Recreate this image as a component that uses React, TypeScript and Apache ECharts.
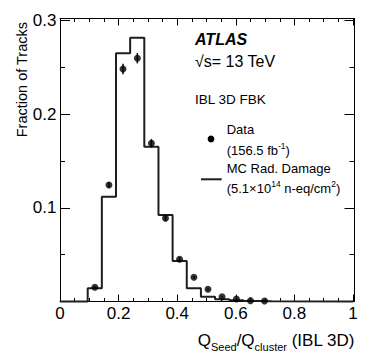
import React, { useEffect, useRef } from "react";
import * as echarts from "echarts";

// ---- data ----
const binEdges = [0.0945, 0.1428, 0.1911, 0.2394, 0.2877, 0.336, 0.3843, 0.4326, 0.4809, 0.5292, 0.5775, 0.6258, 0.6741, 0.7224];
const mcValues = [0.0141, 0.1118, 0.2649, 0.2815, 0.1652, 0.0923, 0.0432, 0.0141, 0.0051, 0.0025, 0.0014, 0.0005, 0.0003];
const dataX = [0.119, 0.167, 0.215, 0.264, 0.312, 0.36, 0.408, 0.457, 0.505, 0.553, 0.602, 0.65, 0.698];
const dataY = [0.0152, 0.1243, 0.2481, 0.2596, 0.1688, 0.0888, 0.045, 0.0258, 0.013, 0.0051, 0.0027, 0.0009, 0.0005];
const dataErr = [0.001, 0.003, 0.0055, 0.0055, 0.0045, 0.003, 0.002, 0.0015, 0.001, 0.0005, 0.0005, 0.0003, 0.0003];
const xTickLabels = ["0", "0.2", "0.4", "0.6", "0.8", "1"];
const yTickLabels = ["0.1", "0.2", "0.3"];

const FONT = '"Liberation Sans", Arial, Helvetica, sans-serif';

let measureCtx: CanvasRenderingContext2D | null = null;
function measure(text: string, size: number, weight = "normal", style = "normal") {
  if (!measureCtx) measureCtx = document.createElement("canvas").getContext("2d");
  measureCtx!.font = `${style} ${weight} ${size}px ${FONT}`;
  return measureCtx!.measureText(text).width;
}

type Seg = { text: string; size: number; dy: number };
function layout(segs: Seg[], x: number, y: number, anchor: "left" | "right") {
  const widths = segs.map((s) => measure(s.text, s.size));
  const total = widths.reduce((a, b) => a + b, 0);
  let cx = anchor === "left" ? x : x - total;
  const els: any[] = [];
  segs.forEach((s, i) => {
    els.push(txt(s.text, cx, y + s.dy, s.size));
    cx += widths[i];
  });
  return els;
}

function txt(text: string, x: number, y: number, size: number, weight = "normal", style = "normal", align = "left") {
  return {
    type: "text",
    x,
    y,
    silent: true,
    style: {
      text,
      font: `${style} ${weight} ${size}px ${FONT}`,
      fill: "#000",
      align,
      verticalAlign: "middle",
      textAlign: align,
      textVerticalAlign: "middle",
    },
  };
}

export default function App() {
  const ref = useRef<HTMLDivElement>(null);
  useEffect(() => {
    if (!ref.current) return;
    const chart = echarts.init(ref.current, undefined, { renderer: "svg" });

    // step histogram outline from bin edges
    const step: number[][] = [[0, 0], [binEdges[0], 0]];
    mcValues.forEach((v, i) => {
      step.push([binEdges[i], v]);
      step.push([binEdges[i + 1], v]);
    });
    step.push([binEdges[binEdges.length - 1], 0]);
    step.push([1, 0]);

    const pts = dataX.map((x, i) => [x, dataY[i], dataErr[i]]);

    const xLabelFmt = (v: number) => {
      const k = v / 0.2;
      if (Math.abs(k - Math.round(k)) > 1e-6) return "";
      return xTickLabels[Math.round(k)] ?? "";
    };
    const yLabelFmt = (v: number) => {
      const k = v / 0.1;
      if (Math.abs(k - Math.round(k)) > 1e-6) return "";
      const idx = Math.round(k) - 1;
      return idx >= 0 ? yTickLabels[idx] ?? "" : "";
    };

    const axisLine = { show: true, onZero: false, lineStyle: { color: "#000", width: 1 } };
    const xBase = {
      type: "value",
      min: 0,
      max: 1.005,
      interval: 0.2,
      axisLine,
      axisTick: { show: true, inside: true, length: 7, lineStyle: { color: "#000", width: 1 } },
      minorTick: { show: true, splitNumber: 4, length: 3.5, lineStyle: { color: "#000", width: 1 } },
      splitLine: { show: false },
      minorSplitLine: { show: false },
    };
    const yBase = {
      type: "value",
      min: 0,
      max: 0.302,
      interval: 0.1,
      axisLine,
      axisTick: { show: true, inside: true, length: 10, lineStyle: { color: "#000", width: 1 } },
      minorTick: { show: true, splitNumber: 2, length: 5, lineStyle: { color: "#000", width: 1 } },
      splitLine: { show: false },
      minorSplitLine: { show: false },
    };

    const xTitle = layout(
      [
        { text: "Q", size: 17, dy: 0 },
        { text: "Seed", size: 11, dy: 6 },
        { text: "/Q", size: 17, dy: 0 },
        { text: "cluster", size: 11, dy: 6 },
        { text: " (IBL 3D)", size: 17, dy: 0 },
      ],
      355,
      340.5,
      "right"
    );
    const lumi = layout(
      [
        { text: "(156.5 fb", size: 13, dy: 0 },
        { text: "-1", size: 8.5, dy: -4.5 },
        { text: ")", size: 13, dy: 0 },
      ],
      226.7,
      150,
      "left"
    );
    const fluence = layout(
      [
        { text: "(5.1\u00d710", size: 13, dy: 0 },
        { text: "14", size: 8.5, dy: -4.5 },
        { text: " n-eq/cm", size: 13, dy: 0 },
        { text: "2", size: 8.5, dy: -4.5 },
        { text: ")", size: 13, dy: 0 },
      ],
      226.7,
      188.3,
      "left"
    );

    chart.setOption({
      animation: false,
      backgroundColor: "#fff",
      grid: { left: 60, top: 18.5, width: 294.5, height: 283, containLabel: false },
      xAxis: [
        { ...xBase, position: "bottom", axisLabel: { show: true, fontSize: 17, fontFamily: FONT, color: "#000", margin: 3, formatter: xLabelFmt } },
        { ...xBase, position: "top", axisLabel: { show: false } },
      ],
      yAxis: [
        { ...yBase, position: "left", axisLabel: { show: true, fontSize: 17, fontFamily: FONT, color: "#000", margin: 3.5, formatter: yLabelFmt } },
        { ...yBase, position: "right", axisLabel: { show: false } },
      ],
      series: [
        {
          type: "line",
          data: step,
          showSymbol: false,
          symbol: "none",
          lineStyle: { color: "#1e1e1e", width: 2 },
          clip: false,
          z: 3,
        },
        {
          type: "custom",
          data: pts,
          z: 4,
          renderItem: (params: any, api: any) => {
            const x = api.value(0);
            const y = api.value(1);
            const e = api.value(2);
            const p1 = api.coord([x, y - e]);
            const p2 = api.coord([x, y + e]);
            return {
              type: "line",
              shape: { x1: p1[0], y1: p1[1], x2: p2[0], y2: p2[1] },
              style: { stroke: "#000", lineWidth: 1.5 },
            };
          },
        },
        {
          type: "scatter",
          data: pts.map((p) => [p[0], p[1]]),
          symbol: "circle",
          symbolSize: 7,
          itemStyle: { color: "#000" },
          z: 5,
        },
      ],
      graphic: [
        {
          type: "text",
          x: 21.7,
          y: 22,
          rotation: Math.PI / 2,
          silent: true,
          style: {
            text: "Fraction of Tracks",
            font: `normal normal 14.5px ${FONT}`,
            fill: "#000",
            align: "right",
            verticalAlign: "middle",
            textAlign: "right",
            textVerticalAlign: "middle",
          },
        },
        ...xTitle,
        txt("ATLAS", 195, 39.3, 16, "bold", "italic"),
        txt("\u221As= 13 TeV", 195, 61.7, 16),
        txt("IBL 3D FBK", 195, 99.3, 13.5),
        { type: "circle", shape: { cx: 211, cy: 139, r: 3.4 }, style: { fill: "#000" }, silent: true },
        txt("Data", 226.7, 129.3, 13),
        ...lumi,
        { type: "line", shape: { x1: 201, y1: 179.3, x2: 221.7, y2: 179.3 }, style: { stroke: "#1e1e1e", lineWidth: 2 }, silent: true },
        txt("MC Rad. Damage", 226.7, 168.3, 13),
        ...fluence,
      ],
    });
    return () => chart.dispose();
  }, []);
  return <div ref={ref} style={{ width: 374, height: 359, position: "absolute", left: 0, top: 0 }} />;
}
